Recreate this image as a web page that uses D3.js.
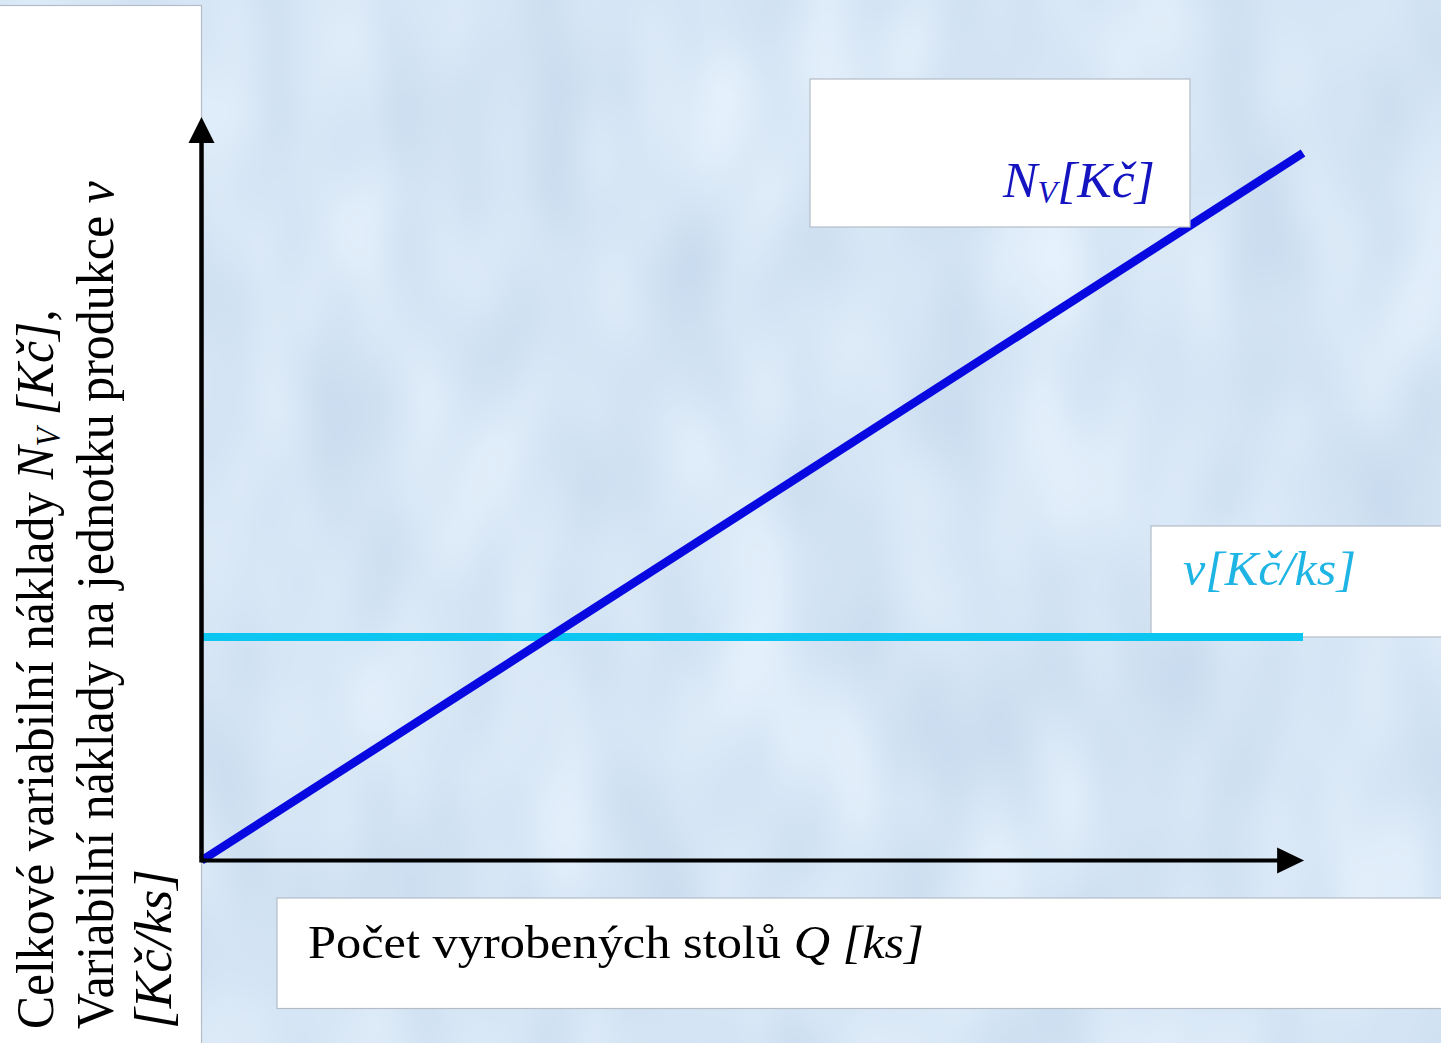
<!DOCTYPE html>
<html>
<head>
<meta charset="utf-8">
<script src="https://cdn.jsdelivr.net/npm/d3@7"></script>
<style>
  html, body { margin: 0; padding: 0; background: #d6e5f5; }
  svg { display: block; }
</style>
</head>
<body>
<svg id="chart" width="1441" height="1043"></svg>
<script>
// ---- data ----
const qValues = [0, 100];          // Počet vyrobených stolů Q
const nvValues = [0, 100];         // Celkové variabilní náklady Nv
const vValues = [31.6, 31.6];      // Variabilní náklady na jednotku v
const xAxisMax = 100.1;
const yAxisMax = 105.1;
const yLabelLines = [
  [["Celkové variabilní náklady ", "n"], ["N", "i"], ["V", "isub"], [" [Kč]", "i"], [",", "n"]],
  [["Variabilní náklady na jednotku produkce ", "n"], ["v", "i"]],
  [["[Kč/ks]", "i"]]
];
const xLabelParts = [["Počet vyrobených stolů ", "n"], ["Q [ks]", "i"]];
const nvLabelParts = [["N", "i"], ["V", "isub"], ["[Kč]", "i"]];
const vLabelParts = [["v[Kč/ks]", "i"]];

// ---- layout ----
const W = 1441, H = 1043;
const svg = d3.select("#chart");
const x = d3.scaleLinear().domain([0, 100]).range([201.5, 1303]);
const y = d3.scaleLinear().domain([0, 100]).range([860.5, 153]);
const serif = "'Liberation Serif', 'DejaVu Serif', serif";

// background texture
const defs = svg.append("defs");
const f = defs.append("filter").attr("id", "tex").attr("x", 0).attr("y", 0)
  .attr("width", W).attr("height", H).attr("filterUnits", "userSpaceOnUse")
  .attr("color-interpolation-filters", "sRGB");
f.append("feTurbulence").attr("type", "fractalNoise")
  .attr("baseFrequency", "0.010 0.005").attr("numOctaves", 2).attr("seed", 7).attr("result", "n");
f.append("feGaussianBlur").attr("stdDeviation", 4);
f.append("feColorMatrix").attr("type", "matrix")
  .attr("values", "0.17 0 0 0 0.755  0.13 0 0 0 0.835  0.08 0 0 0 0.92  0 0 0 0 1");
svg.append("rect").attr("width", W).attr("height", H).attr("filter", "url(#tex)");

// white boxes
function box(x0, y0, x1, y1) {
  svg.append("rect").attr("x", x0).attr("y", y0).attr("width", x1 - x0).attr("height", y1 - y0)
    .attr("fill", "#ffffff").attr("stroke", "#b4bcc8").attr("stroke-width", 1.2);
}
box(-2, 5.5, 201.5, 1050);
box(277, 898, 1450, 1008.5);
box(1151, 526, 1450, 637);

function addParts(sel, parts, size) {
  parts.forEach(([t, st], i) => {
    const ts = sel.append("tspan").text(t)
      .attr("font-style", st.startsWith("i") ? "italic" : "normal");
    if (st === "isub") ts.attr("font-size", size * 0.62).attr("dy", size * 0.12);
    else ts.attr("font-size", size).attr("dy", (i > 0 && parts[i - 1][1] === "isub") ? -size * 0.12 : 0);
  });
}
// fit text to target length by scaling along its direction
function fitText(g, parts, size, fill, target) {
  const t = g.append("text").attr("font-family", serif).attr("fill", fill).attr("x", 0).attr("y", 0);
  addParts(t, parts, size);
  const w = t.node().getComputedTextLength();
  t.attr("transform", `scale(${target / w},1)`);
  return t;
}

// ---- lines ----
const line = d3.line().x(d => x(d[0])).y(d => y(d[1]));
svg.append("path").datum(qValues.map((q, i) => [q, vValues[i]]))
  .attr("d", line).attr("stroke", "#0cc6f2").attr("stroke-width", 8).attr("fill", "none");
svg.append("path").datum(qValues.map((q, i) => [q, nvValues[i]]))
  .attr("d", line).attr("stroke", "#0808e0").attr("stroke-width", 8.5)
  .attr("fill", "none").attr("stroke-linecap", "butt");

// Nv box on top of line corner
box(810, 79, 1190, 227);

// ---- axes ----
const x0 = x(0), y0 = y(0);
svg.append("line").attr("x1", x0).attr("y1", y0).attr("x2", x(xAxisMax) - 20).attr("y2", y0)
  .attr("stroke", "#000").attr("stroke-width", 4);
svg.append("line").attr("x1", x0).attr("y1", y0 + 2).attr("x2", x0).attr("y2", y(yAxisMax) + 20)
  .attr("stroke", "#000").attr("stroke-width", 4.5);
const xt = x(xAxisMax), yt = y(yAxisMax);
svg.append("path").attr("d", `M${xt},${y0}L${xt - 27},${y0 - 13}L${xt - 27},${y0 + 13}Z`).attr("fill", "#000");
svg.append("path").attr("d", `M${x0},${yt}L${x0 - 13},${yt + 26}L${x0 + 13},${yt + 26}Z`).attr("fill", "#000");

// ---- labels ----
const yLabelBase = [53, 113, 171];
const yLabelLen = [720, 848, 160];
yLabelLines.forEach((parts, i) => {
  const g = svg.append("g").attr("transform", `translate(${yLabelBase[i]},1029) rotate(-90)`);
  fitText(g, parts, 53, "#000", yLabelLen[i]);
});
fitText(svg.append("g").attr("transform", "translate(308,958)"), xLabelParts, 47, "#000", 616);
fitText(svg.append("g").attr("transform", "translate(1003,197)"), nvLabelParts, 50, "#1414c0", 152);
fitText(svg.append("g").attr("transform", "translate(1183,585)"), vLabelParts, 48, "#1eb4e4", 173);
</script>
</body>
</html>
